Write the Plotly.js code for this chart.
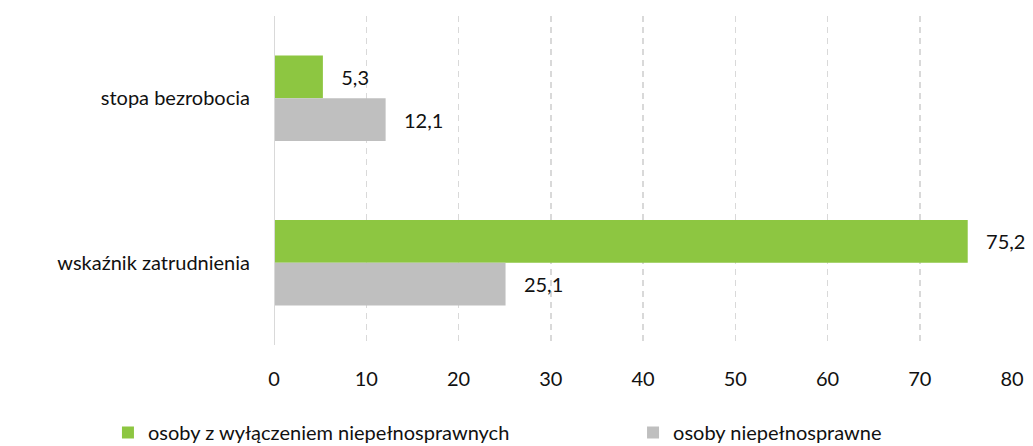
<!DOCTYPE html>
<html><head><meta charset="utf-8">
<script src="https://cdn.plot.ly/plotly-3.0.1.min.js"></script>
<style>html,body{margin:0;padding:0;background:#fff;}#chart{width:1033px;height:446px;}</style>
</head><body><div id="chart"></div>
<script>
const categories = ['stopa bezrobocia', 'wskaźnik zatrudnienia'];
const seriesNames = ['osoby z wyłączeniem niepełnosprawnych', 'osoby niepełnosprawne'];
const withoutDisability = [5.3, 75.2];
const withDisability = [12.1, 25.1];
const xTicks = [0, 10, 20, 30, 40, 50, 60, 70, 80];

const FONT = 'Lato, "Open Sans", sans-serif';
const FS = 20;
const NB = '\u00a0\u00a0\u00a0';
const traces = [
  {type:'bar', orientation:'h', name: seriesNames[0], y: categories, x: withoutDisability,
   marker:{color:'#8DC641'}, texttemplate: NB + '%{x:.1f}', textposition:'outside', legend:'legend',
   cliponaxis:false, textfont:{family:FONT, size:FS, color:'#111'}, hoverinfo:'none'},
  {type:'bar', orientation:'h', name: seriesNames[1], y: categories, x: withDisability,
   marker:{color:'#BFBFBF'}, texttemplate: NB + '%{x:.1f}', textposition:'outside', legend:'legend2',
   cliponaxis:false, textfont:{family:FONT, size:FS, color:'#111'}, hoverinfo:'none'}
];
const legendBase = {orientation:'h', yref:'container', yanchor:'top', y:0.074, xanchor:'left',
  font:{family:FONT, size:FS, color:'#111'}, bgcolor:'rgba(0,0,0,0)'};
const layout = {
  width:1033, height:446,
  margin:{l:274, r:21, t:16, b:101, autoexpand:false},
  separators: ', ',
  barmode:'group', bargap:0.48, bargroupgap:0,
  paper_bgcolor:'#fff', plot_bgcolor:'#fff',
  font:{family:FONT, size:FS, color:'#111'},
  xaxis:{range:[0,80], tickvals:xTicks, ticktext:xTicks.map(String), showgrid:true,
         gridcolor:'#D9D9D9', griddash:'6px,5px', gridwidth:1.5, zeroline:false,
         showline:false, ticks:'', ticklabelstandoff:20, tickfont:{family:FONT, size:FS, color:'#111'}},
  yaxis:{autorange:'reversed', showgrid:false, zeroline:false, showline:false, ticks:'',
         ticklabelstandoff:23, tickfont:{family:FONT, size:FS, color:'#111'}},
  shapes:[{type:'line', xref:'x', yref:'paper', x0:0, x1:0, y0:0, y1:1.0,
           line:{color:'#D9D9D9', width:2}}],
  showlegend:true,
  legend: Object.assign({}, legendBase, {x:-0.225}),
  legend2: Object.assign({}, legendBase, {x:0.4865})
};
Plotly.newPlot('chart', traces, layout, {displayModeBar:false, staticPlot:true});
</script></body></html>
